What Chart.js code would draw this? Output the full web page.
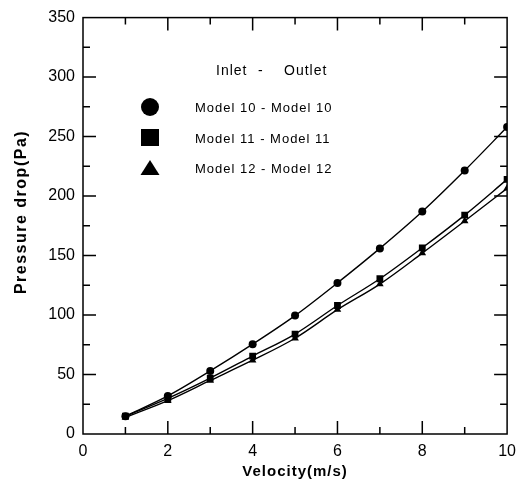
<!doctype html>
<html lang="en">
<head>
<meta charset="utf-8">
<title>Pressure drop vs velocity</title>
<script src="https://cdn.jsdelivr.net/npm/chart.js@4.4.0/dist/chart.umd.min.js"></script>
<style>
  body { margin: 0; background: #fff; }
  #wrap { width: 524px; height: 484px; }
</style>
</head>
<body>
<div id="wrap"><canvas id="myChart" width="524" height="484"></canvas></div>
<script>
// velocities (m/s)
const velocity = [1, 2, 3, 4, 5, 6, 7, 8, 9, 10];
// pressure drop (Pa)
const model10 = [15, 32, 53, 75.5, 99.5, 127, 156, 187, 221.5, 258];
const model11 = [15, 30, 47, 65.5, 84, 108, 130.5, 156.5, 184, 214];
const model12 = [14, 28, 45, 62, 80.5, 104.5, 126, 152, 179, 206.5];

const seriesNames = ["Model 10 - Model 10", "Model 11 - Model 11", "Model 12 - Model 12"];
const seriesShapes = ["circle", "rect", "triangle"];
const legendHeader = ["Inlet", "-", "Outlet"];
const xTitle = "Velocity(m/s)";
const yTitle = "Pressure drop(Pa)";

const pts = (ys) => velocity.map((v, i) => ({ x: v, y: ys[i] }));

// frame, inward ticks, axis titles and the inset legend
const decor = {
    id: 'decor',
    afterDraw(chart) {
        const ctx = chart.ctx;
        const a = chart.chartArea;
        const xs = chart.scales.x, ys = chart.scales.y;
        ctx.save();
        ctx.strokeStyle = '#000';
        ctx.lineWidth = 1.5;
        ctx.strokeRect(a.left, a.top, a.right - a.left, a.bottom - a.top);

        ctx.beginPath();
        for (let v = 25; v < 350; v += 25) {
            const p = ys.getPixelForValue(v);
            const len = v % 50 === 0 ? 13 : 7;
            ctx.moveTo(a.left, p); ctx.lineTo(a.left + len, p);
            ctx.moveTo(a.right, p); ctx.lineTo(a.right - len, p);
        }
        for (let v = 1; v < 10; v++) {
            const p = xs.getPixelForValue(v);
            const len = v % 2 === 0 ? 13 : 7;
            ctx.moveTo(p, a.bottom); ctx.lineTo(p, a.bottom - len);
            ctx.moveTo(p, a.top); ctx.lineTo(p, a.top + len);
        }
        ctx.stroke();

        // axis titles
        ctx.fillStyle = '#000';
        ctx.textAlign = 'center';
        ctx.textBaseline = 'middle';
        ctx.font = 'bold 15px "Liberation Sans", Arial, sans-serif';
        ctx.letterSpacing = '1px';
        ctx.fillText(xTitle, (a.left + a.right) / 2, 472);
        ctx.save();
        ctx.translate(22, 212);
        ctx.rotate(-Math.PI / 2);
        ctx.font = 'bold 16px "Liberation Sans", Arial, sans-serif';
        ctx.letterSpacing = '1.5px';
        ctx.fillText(yTitle, 0, 0);
        ctx.restore();

        // legend
        ctx.font = '14px "Liberation Sans", Arial, sans-serif';
        ctx.letterSpacing = '1px';
        ctx.textAlign = 'left';
        ctx.fillText(legendHeader[0], a.left + 133, 71);
        ctx.fillText(legendHeader[1], a.left + 175, 71);
        ctx.fillText(legendHeader[2], a.left + 201, 71);

        ctx.font = '13px "Liberation Sans", Arial, sans-serif';
        const rows = [107, 138, 168];
        seriesNames.forEach((name, i) => {
            const cx = a.left + 67, cy = rows[i];
            ctx.beginPath();
            if (seriesShapes[i] === 'circle') {
                ctx.arc(cx, cy, 9, 0, Math.PI * 2);
            } else if (seriesShapes[i] === 'rect') {
                ctx.rect(cx - 9, cy - 9, 18, 17);
            } else {
                ctx.moveTo(cx, cy - 8);
                ctx.lineTo(cx + 9.5, cy + 7);
                ctx.lineTo(cx - 9.5, cy + 7);
                ctx.closePath();
            }
            ctx.fill();
            ctx.fillText(name, a.left + 112, cy + 1);
        });
        ctx.restore();
    }
};

const lineSet = (label, data, style, r) => ({
    label: label,
    data: pts(data),
    borderColor: '#000',
    backgroundColor: '#000',
    borderWidth: 1.4,
    pointStyle: style,
    pointRadius: r,
    pointBorderWidth: 0,
    cubicInterpolationMode: 'monotone',
    fill: false
});

new Chart(document.getElementById('myChart'), {
    type: 'line',
    data: {
        datasets: [
            lineSet(seriesNames[0], model10, 'circle', 4),
            lineSet(seriesNames[1], model11, 'rect', 4.8),
            lineSet(seriesNames[2], model12, 'triangle', 4.4)
        ]
    },
    options: {
        responsive: false,
        animation: false,
        layout: { padding: { left: 0, top: 12, right: 16, bottom: 0 } },
        plugins: { legend: { display: false }, tooltip: { enabled: false } },
        scales: {
            x: {
                type: 'linear',
                min: 0, max: 10,
                grid: { display: false, drawTicks: false },
                border: { display: false },
                ticks: {
                    stepSize: 2,
                    padding: 8,
                    color: '#000',
                    font: { family: '"Liberation Sans", Arial, sans-serif', size: 16 }
                },
                afterFit: (s) => { s.height = 50; }
            },
            y: {
                min: 0, max: 350,
                grid: { display: false, drawTicks: false },
                border: { display: false },
                ticks: {
                    stepSize: 50,
                    padding: 8,
                    color: '#000',
                    font: { family: '"Liberation Sans", Arial, sans-serif', size: 16 }
                },
                afterFit: (s) => { s.width = 83; }
            }
        }
    },
    plugins: [decor]
});
</script>
</body>
</html>
